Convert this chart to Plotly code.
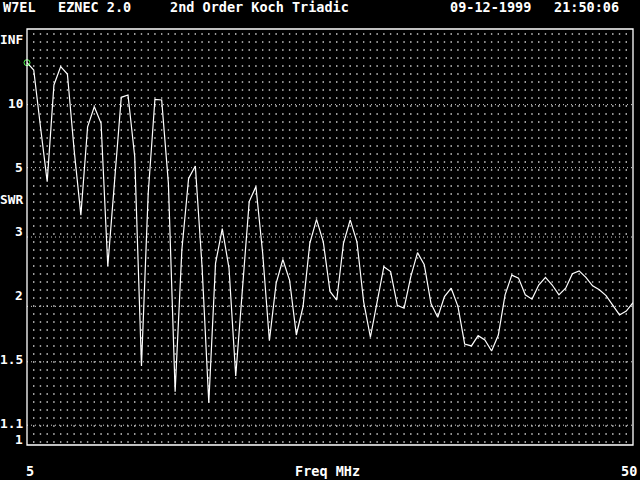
import numpy as np
import plotly.graph_objects as go

# ---- data -------------------------------------------------------------
freq_mhz = [5.0, 5.5, 6.0, 6.5, 7.0, 7.5, 8.0, 8.5, 9.0, 9.5,
            10.0, 10.5, 11.0, 11.5, 12.0, 12.5, 13.0, 13.5, 14.0, 14.5,
            15.0, 15.5, 16.0, 16.5, 17.0, 17.5, 18.0, 18.5, 19.0, 19.5,
            20.0, 20.5, 21.0, 21.5, 22.0, 22.5, 23.0, 23.5, 24.0, 24.5,
            25.0, 25.5, 26.0, 26.5, 27.0, 27.5, 28.0, 28.5, 29.0, 29.5,
            30.0, 30.5, 31.0, 31.5, 32.0, 32.5, 33.0, 33.5, 34.0, 34.5,
            35.0, 35.5, 36.0, 36.5, 37.0, 37.5, 38.0, 38.5, 39.0, 39.5,
            40.0, 40.5, 41.0, 41.5, 42.0, 42.5, 43.0, 43.5, 44.0, 44.5,
            45.0, 45.5, 46.0, 46.5, 47.0, 47.5, 48.0, 48.5, 49.0, 49.5,
            50.0]

swr = [23.7, 19.3, 7.51, 4.45, 13.86, 21.1, 17.5, 5.88, 3.47, 7.51,
       9.71, 7.82, 2.51, 4.39, 11.18, 11.6, 5.51, 1.469, 4.06, 10.83,
       10.72, 4.39, 1.294, 2.77, 4.57, 5.07, 2.50, 1.226, 2.55, 3.17,
       2.48, 1.398, 2.23, 3.82, 4.28, 2.71, 1.669, 2.27, 2.61, 2.31,
       1.719, 2.00, 2.88, 3.37, 2.91, 2.17, 2.07, 2.88, 3.36, 2.91,
       2.05, 1.699, 2.05, 2.50, 2.43, 2.01, 1.98, 2.36, 2.72, 2.53,
       2.03, 1.886, 2.11, 2.21, 2.00, 1.641, 1.625, 1.713, 1.675, 1.584,
       1.719, 2.13, 2.38, 2.34, 2.13, 2.08, 2.25, 2.35, 2.25, 2.13,
       2.21, 2.40, 2.44, 2.35, 2.24, 2.19, 2.12, 2.01, 1.91, 1.95,
       2.04]

swr_grid_levels = [1.1, 1.5, 2, 3, 5, 10]
y_labels = ["INF", "10", "5", "SWR", "3", "2", "1.5", "1.1", "1"]
x_labels = ["5", "Freq MHz", "50"]
header = ["W7EL", "EZNEC 2.0", "2nd Order Koch Triadic", "09-12-1999", "21:50:06"]

# ---- style / layout -----------------------------------------------------
W, H = 640, 480
L, R, T, B = 27, 633, 29, 445          # plot frame in pixels
FONT = dict(family="DejaVu Sans Mono", size=13.5, color="white")
FONT_Y = dict(family="DejaVu Sans Mono", size=12.8, color="white")


def gamma(s):
    s = np.asarray(s, dtype=float)
    return (s - 1.0) / (s + 1.0)


def px(x, y):
    return (x - L) / (R - L), (B - y) / (B - T)


fig = go.Figure()

# dotted background grid
gx, gy = [], []
for f in freq_mhz[1:-1]:
    for k in range(52):
        gx.append(f)
        gy.append((3 + 8 * k) / 416.0)
fig.add_trace(go.Scatter(x=gx, y=gy, mode="markers",
                         marker=dict(symbol="square", size=1.4, color="#d8d8d8", line=dict(width=0)),
                         hoverinfo="skip", showlegend=False))

# dense dotted lines at SWR levels
for s in swr_grid_levels:
    g = float(gamma(s))
    fig.add_trace(go.Scatter(x=[freq_mhz[0], freq_mhz[-1]], y=[g, g], mode="lines",
                             line=dict(color="#d0d0d0", width=1, dash="1px,3px"),
                             hoverinfo="skip", showlegend=False))

# SWR curve
fig.add_trace(go.Scatter(x=freq_mhz, y=gamma(swr), mode="lines",
                         line=dict(color="white", width=1.2),
                         showlegend=False))

# start marker
fig.add_trace(go.Scatter(x=[freq_mhz[0]], y=[float(gamma(swr[0]))], mode="markers",
                         marker=dict(symbol="circle-open", size=6, color="#55ff55",
                                     line=dict(width=1, color="#55ff55")),
                         showlegend=False, cliponaxis=False))

annotations = []
# header row
hdr_x = [1, 56, 167.5, 447.5, 551.5]
for t, x in zip(header, hdr_x):
    xp, yp = px(x, 7)
    annotations.append(dict(text="<b>%s</b>" % t, x=xp, y=yp, xref="paper", yref="paper",
                            xanchor="left", yanchor="middle", showarrow=False, font=FONT))
# y labels (right aligned, text rows)
lab_y = [39, 103, 167, 199, 231, 295, 359, 423, 439]
for t, y in zip(y_labels, lab_y):
    xp, yp = px(24.5, y)
    annotations.append(dict(text="<b>%s</b>" % t, x=xp, y=yp, xref="paper", yref="paper",
                            xanchor="right", yanchor="middle", showarrow=False, font=FONT_Y))
# x labels
lab_x = [(24, "left"), (327, "center"), (639, "right")]
for t, (x, anc) in zip(x_labels, lab_x):
    xp, yp = px(x, 471)
    annotations.append(dict(text="<b>%s</b>" % t, x=xp, y=yp, xref="paper", yref="paper",
                            xanchor=anc, yanchor="middle", showarrow=False, font=FONT))

fig.update_layout(
    width=W, height=H,
    margin=dict(l=L, r=W - R, t=T, b=H - B, pad=0),
    paper_bgcolor="black", plot_bgcolor="black",
    xaxis=dict(range=[5, 50], showgrid=False, zeroline=False, showticklabels=False,
               ticks="", showline=False, fixedrange=True),
    yaxis=dict(range=[0, 1], showgrid=False, zeroline=False, showticklabels=False,
               ticks="", showline=False, fixedrange=True),
    shapes=[dict(type="rect", xref="paper", yref="paper", x0=0, y0=0, x1=1, y1=1,
                 line=dict(color="white", width=1.3))],
    annotations=annotations,
    showlegend=False,
)

fig.write_html("out.html", config={"displayModeBar": False},
               post_script="document.body.style.margin='0';document.body.style.background='black';")
